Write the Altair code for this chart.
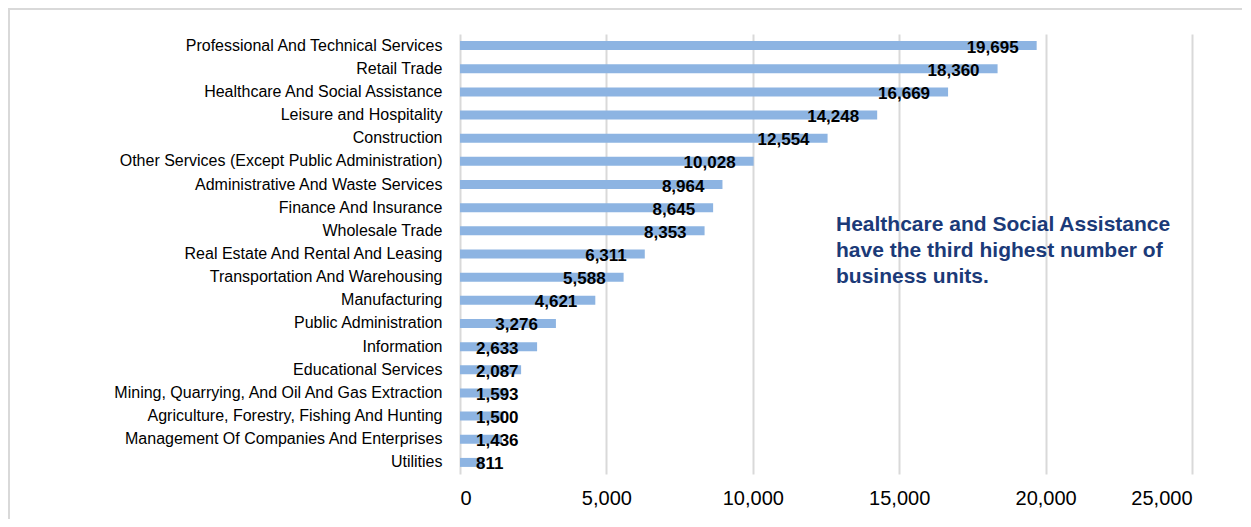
import altair as alt
import pandas as pd

categories = [
    "Professional And Technical Services",
    "Retail Trade",
    "Healthcare And Social Assistance",
    "Leisure and Hospitality",
    "Construction",
    "Other Services (Except Public Administration)",
    "Administrative And Waste Services",
    "Finance And Insurance",
    "Wholesale Trade",
    "Real Estate And Rental And Leasing",
    "Transportation And Warehousing",
    "Manufacturing",
    "Public Administration",
    "Information",
    "Educational Services",
    "Mining, Quarrying, And Oil And Gas Extraction",
    "Agriculture, Forestry, Fishing And Hunting",
    "Management Of Companies And Enterprises",
    "Utilities",
]
values = [19695, 18360, 16669, 14248, 12554, 10028, 8964, 8645, 8353,
          6311, 5588, 4621, 3276, 2633, 2087, 1593, 1500, 1436, 811]
x_ticks = [0, 5000, 10000, 15000, 20000, 25000]
note_lines = ["Healthcare and Social Assistance",
              "have the third highest number of",
              "business units."]

df = pd.DataFrame({"category": categories, "value": values})

FONT = "Liberation Sans"
BAR = "#8DB4E2"
GRID = "#D9D9D9"

y_axis = alt.Axis(labelFont=FONT, labelFontSize=16, labelColor="#000000",
                  ticks=False, domain=False, labelPadding=18, labelLimit=500)
y_scale = alt.Scale(paddingInner=0.6, paddingOuter=0.3)
x_scale = alt.Scale(domain=[0, 25000], nice=False)
x_axis = alt.Axis(values=x_ticks, format=",.0f", labelFont=FONT,
                  labelFontSize=20, labelColor="#000000",
                  ticks=False, domain=False, labelPadding=14,
                  grid=True, gridColor=GRID, gridWidth=2)

def yenc():
    return alt.Y("category:N", sort=categories, title=None, scale=y_scale, axis=y_axis)

base = alt.Chart(df)

bars = base.mark_bar(color=BAR, size=9).encode(
    x=alt.X("value:Q", scale=x_scale, title=None, axis=x_axis), y=yenc())

label_style = dict(font=FONT, fontSize=17, fontWeight="bold", color="#000000",
                   baseline="middle", dy=2)

labels_end = base.transform_filter("datum.value >= 3000").mark_text(
    align="right", dx=-18, **label_style).encode(
    x=alt.X("value:Q", scale=x_scale, title=None, axis=x_axis),
    y=yenc(),
    text=alt.Text("value:Q", format=","))

labels_start = base.transform_filter("datum.value < 3000").transform_calculate(
    zero="0").mark_text(
    align="left", dx=16, **label_style).encode(
    x=alt.X("zero:Q", scale=x_scale, title=None, axis=x_axis),
    y=yenc(),
    text=alt.Text("value:Q", format=","))

note = alt.Chart(pd.DataFrame({"t": ["\n".join(note_lines)]})).mark_text(
    align="left", baseline="top", font=FONT, fontSize=21, fontWeight="bold",
    color="#1B3A78", lineBreak="\n", lineHeight=26).encode(
    x=alt.value(376), y=alt.value(180), text="t:N")

border_top = alt.Chart(pd.DataFrame({"a": [0]})).mark_rule(
    color=GRID, strokeWidth=2).encode(
    x=alt.value(-451), x2=alt.value(800), y=alt.value(-25))
border_left = alt.Chart(pd.DataFrame({"a": [0]})).mark_rule(
    color=GRID, strokeWidth=2).encode(
    x=alt.value(-451), y=alt.value(-26), y2=alt.value(500))

chart = alt.layer(bars, labels_end, labels_start, note, border_top, border_left).properties(
    width=732, height=440,
    background="white",
    autosize=alt.AutoSizeParams(type="none"),
    padding={"left": 452, "top": 26, "right": 50, "bottom": 45},
).configure_view(stroke=None)

chart.save("out.html", embed_options={"renderer": "svg", "actions": False})
